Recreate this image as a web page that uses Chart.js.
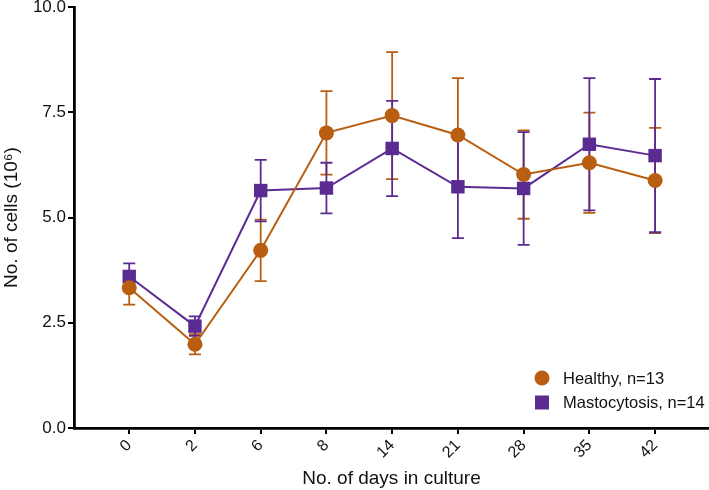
<!DOCTYPE html>
<html>
<head>
<meta charset="utf-8">
<script src="https://cdn.jsdelivr.net/npm/chart.js@4"></script>
<style>
    html, body { margin: 0; padding: 0; background: #fff; }
    #wrap { width: 709px; height: 490px; }
</style>
</head>
<body>
<div id="wrap"><canvas id="chart" width="709" height="490"></canvas></div>
<script>
// days in culture
const dayLabels = ['0', '2', '6', '8', '14', '21', '28', '35', '42'];

// Healthy, n=13
const healthyMean = [3.33, 1.99, 4.22, 7.01, 7.42, 6.96, 6.02, 6.30, 5.88];
const healthyErr = [0.40, 0.24, 0.73, 0.99, 1.51, 1.35, 1.05, 1.19, 1.25];

// Mastocytosis, n=14
const mastoMean = [3.60, 2.42, 5.64, 5.70, 6.64, 5.73, 5.69, 6.74, 6.47];
const mastoErr = [0.31, 0.23, 0.73, 0.60, 1.13, 1.22, 1.34, 1.57, 1.82];

const yTicks = [0, 2.5, 5, 7.5, 10];

const ORANGE = '#b95d10';
const PURPLE = '#5a2c92';
const FONT = "'Liberation Sans', Arial, sans-serif";

const toPoints = arr => arr.map((v, i) => ({ x: i, y: v }));

// draws mean +/- error bars with caps, using the chart scales
const errorBars = {
    id: 'errorBars',
    beforeDatasetsDraw(chart) {
        const ctx = chart.ctx;
        const xs = chart.scales.x;
        const ys = chart.scales.y;
        chart.data.datasets.forEach(ds => {
            ctx.save();
            ctx.strokeStyle = ds.borderColor;
            ctx.lineWidth = 1.8;
            ds.data.forEach((p, i) => {
                const e = ds.errors[i];
                const x = xs.getPixelForValue(p.x);
                const top = ys.getPixelForValue(p.y + e);
                const bot = ys.getPixelForValue(p.y - e);
                ctx.beginPath();
                ctx.moveTo(x, top);
                ctx.lineTo(x, bot);
                ctx.moveTo(x - 6, top);
                ctx.lineTo(x + 6, top);
                ctx.moveTo(x - 6, bot);
                ctx.lineTo(x + 6, bot);
                ctx.stroke();
            });
            ctx.restore();
        });
    }
};

// legend drawn inside the plot, bottom right
const insideLegend = {
    id: 'insideLegend',
    afterDraw(chart) {
        const ctx = chart.ctx;
        const x0 = chart.chartArea.right - 167;
        let y0 = chart.chartArea.bottom - 50;
        ctx.save();
        ctx.font = '16.5px ' + FONT;
        ctx.textBaseline = 'middle';
        chart.data.datasets.forEach(ds => {
            ctx.fillStyle = ds.backgroundColor;
            if (ds.pointStyle === 'rect') {
                ctx.fillRect(x0 - 7, y0 - 7, 14, 14);
            } else {
                ctx.beginPath();
                ctx.arc(x0, y0, 7.5, 0, Math.PI * 2);
                ctx.fill();
            }
            ctx.fillStyle = '#111';
            ctx.fillText(ds.label, x0 + 21, y0 + 1);
            y0 += 24.5;
        });
        ctx.restore();
    }
};

const chart = new Chart(document.getElementById('chart').getContext('2d'), {
    type: 'line',
    data: {
        datasets: [
            {
                label: 'Healthy, n=13',
                data: toPoints(healthyMean),
                errors: healthyErr,
                borderColor: ORANGE,
                backgroundColor: ORANGE,
                borderWidth: 2,
                pointStyle: 'circle',
                pointRadius: 7.5,
                pointBorderWidth: 0,
                pointBackgroundColor: ORANGE
            },
            {
                label: 'Mastocytosis, n=14',
                data: toPoints(mastoMean),
                errors: mastoErr,
                borderColor: PURPLE,
                backgroundColor: PURPLE,
                borderWidth: 2,
                pointStyle: 'rect',
                pointRadius: 9.5,
                pointBorderWidth: 0,
                pointBackgroundColor: PURPLE
            }
        ]
    },
    options: {
        responsive: false,
        animation: false,
        layout: { autoPadding: false, padding: 0 },
        plugins: {
            legend: { display: false },
            tooltip: { enabled: false }
        },
        scales: {
            x: {
                type: 'linear',
                min: -0.84,
                max: 8.82,
                afterBuildTicks(scale) {
                    scale.ticks = dayLabels.map((_, i) => ({ value: i }));
                },
                afterFit(scale) {
                    scale.height = 62;
                    scale.paddingRight = 0;
                },
                grid: {
                    display: true,
                    drawOnChartArea: false,
                    drawTicks: true,
                    tickLength: 6,
                    color: '#000',
                    lineWidth: 2
                },
                border: { color: '#000', width: 2.8 },
                ticks: {
                    minRotation: 45,
                    maxRotation: 45,
                    color: '#111',
                    padding: 2,
                    font: { family: FONT, size: 16 },
                    callback: v => dayLabels[v]
                },
                title: {
                    display: true,
                    text: 'No. of days in culture',
                    color: '#111',
                    font: { family: FONT, size: 19 },
                    padding: { top: 0, bottom: 0 }
                }
            },
            y: {
                min: 0,
                max: 10,
                afterBuildTicks(scale) {
                    scale.ticks = yTicks.map(v => ({ value: v }));
                },
                afterFit(scale) {
                    scale.width = 74;
                    scale.paddingTop = 7;
                },
                grid: {
                    display: true,
                    drawOnChartArea: false,
                    drawTicks: true,
                    tickLength: 6,
                    color: '#000',
                    lineWidth: 2
                },
                border: { color: '#000', width: 2.8 },
                ticks: {
                    color: '#111',
                    padding: 2,
                    font: { family: FONT, size: 17 },
                    callback: v => v.toFixed(1)
                },
                title: {
                    display: true,
                    text: 'No. of cells (10\u2076)',
                    color: '#111',
                    font: { family: FONT, size: 19 },
                    padding: { top: 0, bottom: 2 }
                }
            }
        }
    },
    plugins: [errorBars, insideLegend]
});
</script>
</body>
</html>
